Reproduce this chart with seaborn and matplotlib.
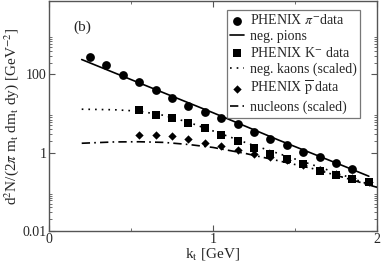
import numpy as np
import pandas as pd
import matplotlib
matplotlib.use("Agg")
import matplotlib.pyplot as plt
import seaborn as sns
from matplotlib.ticker import FixedLocator, NullFormatter

# PHENIX data points
kt_pion = [0.25, 0.35, 0.45, 0.55, 0.65, 0.75, 0.85, 0.95, 1.05, 1.15,
           1.25, 1.35, 1.45, 1.55, 1.65, 1.75, 1.85]
pion_data = [282, 170, 98, 64, 41, 25, 16, 11, 7.6, 5.4,
             3.3, 2.2, 1.55, 1.07, 0.76, 0.54, 0.38]

kt_kaon = [0.55, 0.65, 0.75, 0.85, 0.95, 1.05, 1.15, 1.25, 1.35, 1.45,
           1.55, 1.65, 1.75, 1.85, 1.95]
kaon_data = [12, 9.2, 7.6, 5.6, 4.2, 2.8, 1.95, 1.29, 0.91, 0.69,
             0.51, 0.35, 0.27, 0.21, 0.18]

kt_pbar = [0.55, 0.65, 0.75, 0.85, 0.95, 1.05, 1.15, 1.25, 1.35, 1.45,
           1.55, 1.65, 1.75, 1.85, 1.95]
pbar_data = [2.9, 2.9, 2.6, 2.2, 1.74, 1.44, 1.18, 0.95, 0.76, 0.66,
             0.47, 0.37, 0.28, 0.22, 0.18]

# model curves
kt_pion_model = [0.2, 0.6, 1.0, 1.4, 1.8, 1.95]
pion_model = [240, 50, 10.5, 2.1, 0.45, 0.25]

kt_model = [0.2, 0.4, 0.55, 0.7, 0.85, 1.0, 1.2, 1.4, 1.6, 1.8, 2.0]
kaon_model = [12.9, 12.5, 11.5, 9.0, 6.0, 3.6, 1.8, 0.95, 0.5, 0.26, 0.13]
nucleon_model = [1.74, 1.88, 1.9, 1.83, 1.62, 1.36, 0.95, 0.62, 0.4, 0.23, 0.13]

sns.set_style("ticks")
plt.rcParams['font.family'] = ['Liberation Serif', 'DejaVu Serif']
plt.rcParams['mathtext.fontset'] = 'stix'

fig = plt.figure(figsize=(3.82, 2.63), dpi=100)
ax = fig.add_axes([0.128, 0.122, 0.859, 0.874])

sns.scatterplot(x=kt_pion, y=pion_data, marker='o', s=40, color='black',
                edgecolor='black', linewidth=0, label=r"PHENIX $\pi^{-}$data", ax=ax)
sns.lineplot(x=kt_pion_model, y=pion_model, color='black', linewidth=1.2,
             label="neg. pions", ax=ax)
sns.scatterplot(x=kt_kaon, y=kaon_data, marker='s', s=28, color='black',
                edgecolor='black', linewidth=0, label=r"PHENIX K$^{-}$ data", ax=ax)
sns.lineplot(x=kt_model, y=kaon_model, color='black', linewidth=1.2,
             linestyle=(0, (1, 3)), label="neg. kaons (scaled)", ax=ax)
sns.scatterplot(x=kt_pbar, y=pbar_data, marker='D', s=18, color='black',
                edgecolor='black', linewidth=0, label=r"PHENIX $\overline{\mathrm{p}}$ data", ax=ax)
sns.lineplot(x=kt_model, y=nucleon_model, color='black', linewidth=1.2,
             linestyle=(0, (5, 2.5, 1, 2.5)), label="nucleons (scaled)", ax=ax)

ax.set_yscale('log')
ax.set_xlim(0, 2)
ax.set_ylim(0.01, 7500)

ax.yaxis.set_major_locator(FixedLocator([0.01, 1, 100, 10000]))
ax.yaxis.set_major_formatter(matplotlib.ticker.FixedFormatter(["0.01", "1", "100", "10000"]))
minor = [k * 10.0 ** e for e in (-2, 0, 2) for k in range(2, 10)]
ax.yaxis.set_minor_locator(FixedLocator(minor))
ax.yaxis.set_minor_formatter(NullFormatter())
ax.set_xticks([0, 1, 2])
ax.set_xticklabels(["0", "1", "2"])
ax.set_xticks([0.5, 1.5], minor=True)

ax.tick_params(which='both', direction='in', top=True, right=True,
               labelsize=10, color='#555555', pad=1.5)
ax.tick_params(which='major', length=4, width=0.8)
ax.tick_params(which='minor', length=2, width=0.6)
for sp in ax.spines.values():
    sp.set_color('#555555')
    sp.set_linewidth(1.0)

ax.set_xlabel(r"k$_\mathrm{t}$ [GeV]", fontsize=11, labelpad=0)
ax.set_ylabel(r"d$^2$N/(2$\pi$ m$_\mathrm{t}$ dm$_\mathrm{t}$ dy) [GeV$^{-2}$]",
              fontsize=11, labelpad=1)

ax.text(0.15, 1600, "(b)", fontsize=11, va='center', ha='left')

leg = ax.legend(loc='upper right', bbox_to_anchor=(0.948, 0.962), fontsize=10,
                frameon=True, fancybox=False, handlelength=1.0, handletextpad=0.4,
                labelspacing=0.2, borderpad=0.25, borderaxespad=0)
leg.get_frame().set_edgecolor('#555555')
leg.get_frame().set_linewidth(0.9)

fig.savefig("out.png", dpi=100)
